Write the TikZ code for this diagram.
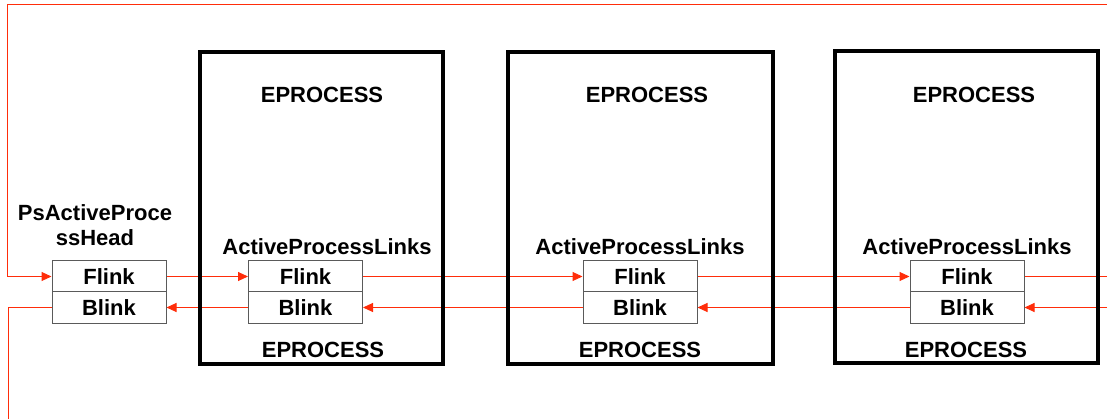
\documentclass[tikz,border=0pt]{standalone}
\usepackage{fontspec}
\setmainfont{Liberation Sans}
\usetikzlibrary{arrows.meta,backgrounds}
\definecolor{linkred}{RGB}{255,45,10}
\definecolor{cellgray}{RGB}{90,90,90}
\begin{document}
\begin{tikzpicture}[x=1pt,y=-1pt,
  lbl/.style={font=\fontsize{22}{25}\selectfont\bfseries, inner sep=0pt, anchor=center},
  procbox/.style={draw=black, line width=4pt, minimum height=312pt, inner sep=0pt},
  cell/.style={draw=cellgray, line width=1pt, fill=white, minimum width=114pt, minimum height=31pt, inner sep=0pt, font=\fontsize{22}{25}\selectfont\bfseries},
  link/.style={draw=linkred, line width=1pt},
  arr/.style={link, -{Triangle[length=10pt,width=9pt]}}]
\useasboundingbox (0,0) rectangle (1107,419);

% process boxes
\node[procbox, minimum width=243pt] (p1) at (321.5,208) {};
\node[procbox, minimum width=265pt] (p2) at (640.5,208) {};
\node[procbox, minimum width=263pt] (p3) at (966.5,207) {};

% labels
\node[lbl] (t1) at (322,95) {EPROCESS};
\node[lbl] (t2) at (647,95) {EPROCESS};
\node[lbl] (t3) at (974,95) {EPROCESS};
\node[lbl] (b1) at (323,350) {EPROCESS};
\node[lbl] (b2) at (640,350) {EPROCESS};
\node[lbl] (b3) at (966,350) {EPROCESS};
\node[lbl] (h1) at (95,213) {PsActiveProce};
\node[lbl] (h2) at (95,238) {ssHead};
\node[lbl] (a1) at (327,247) {ActiveProcessLinks};
\node[lbl] (a2) at (640,247) {ActiveProcessLinks};
\node[lbl] (a3) at (967,247) {ActiveProcessLinks};

% list entry cells
\node[cell] (hF) at (109,276.5) {Flink};
\node[cell] (hB) at (109,307.5) {Blink};
\node[cell] (f1) at (305.5,276.5) {Flink};
\node[cell] (bl1) at (305.5,307.5) {Blink};
\node[cell] (f2) at (640,276.5) {Flink};
\node[cell] (bl2) at (640,307.5) {Blink};
\node[cell] (f3) at (967,276.5) {Flink};
\node[cell] (bl3) at (967,307.5) {Blink};

% free ends
\coordinate (tl) at (7,5);
\coordinate (tr) at (1107,5);
\coordinate (rf) at (1107,276.5);
\coordinate (rb) at (1107,307.5);
\coordinate (lb) at (8,307.5);
\coordinate (bot) at (8,419);

\begin{scope}[on background layer]
  \draw[arr] (tr) -- (tl) |- (hF.west);
  \draw[arr] (hF.east) -- (f1.west);
  \draw[arr] (f1.east) -- (f2.west);
  \draw[arr] (f2.east) -- (f3.west);
  \draw[link] (f3.east) -- (rf);
  \draw[arr] (rb) -- (bl3.east);
  \draw[arr] (bl3.west) -- (bl2.east);
  \draw[arr] (bl2.west) -- (bl1.east);
  \draw[arr] (bl1.west) -- (hB.east);
  \draw[link] (hB.west) -- (lb) -- (bot);
\end{scope}
\end{tikzpicture}
\end{document}
